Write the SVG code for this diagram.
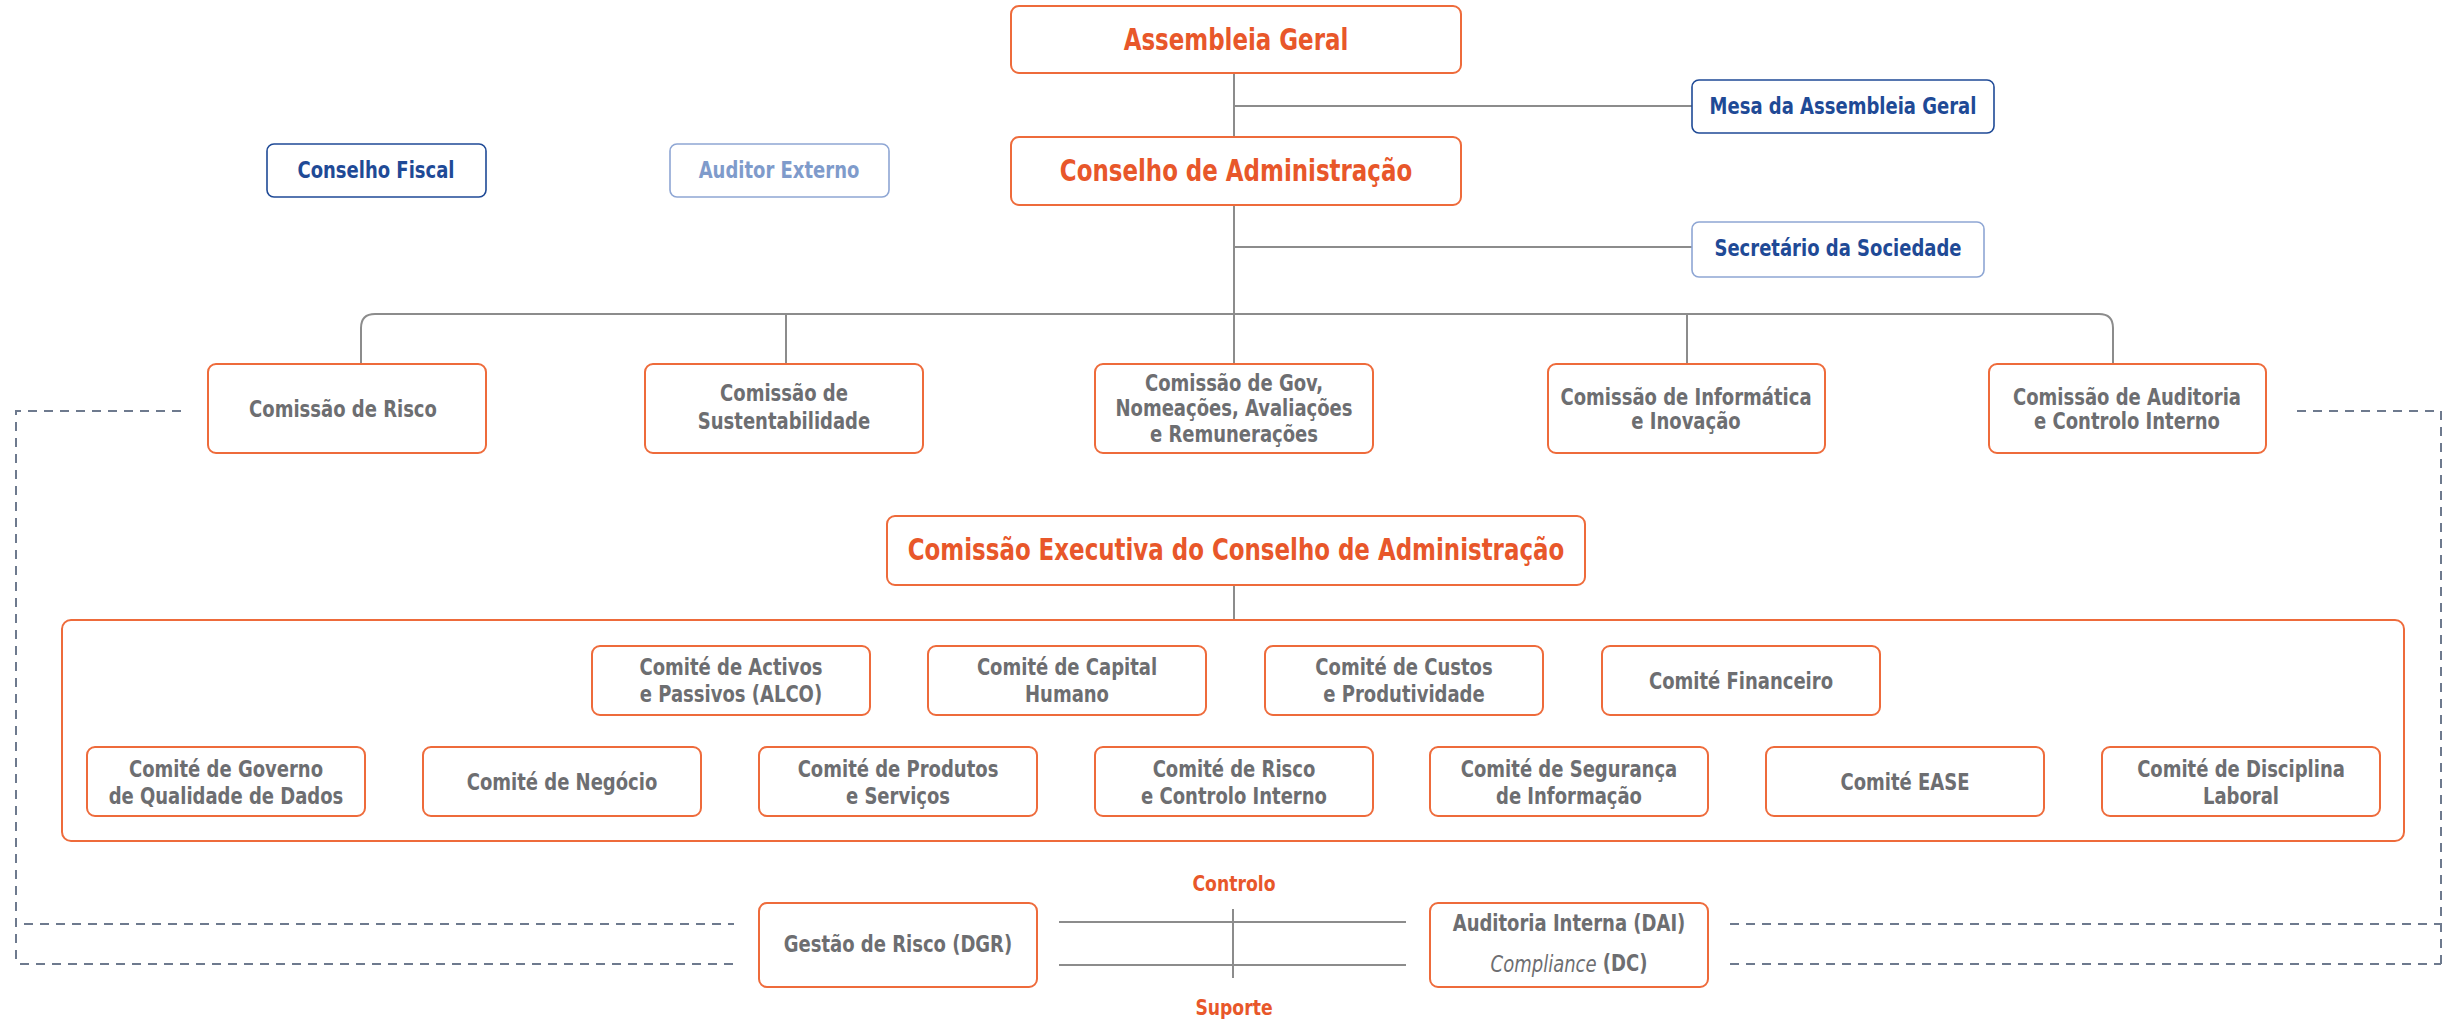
<svg xmlns="http://www.w3.org/2000/svg" width="2450" height="1021" viewBox="0 0 2450 1021">
<style>
text{font-family:"Liberation Sans Narrow","DejaVu Sans Condensed","Liberation Sans",sans-serif;font-weight:bold;text-anchor:middle;dominant-baseline:central;transform-box:fill-box;transform-origin:center;transform:scaleX(0.87)}
.ob{fill:#fff;stroke:#EE6B3B;stroke-width:2}
.nb{fill:#fff;stroke:#1F4A96;stroke-width:1.6}
.lb{fill:#fff;stroke:#8EA6D4;stroke-width:1.6}
.tO{fill:#E8572A;font-size:30px;transform:scaleX(0.85)}
.tO2{fill:#E8572A;font-size:22px}
.tG{fill:#6D6E71;font-size:23px}
.tN{fill:#1F4A96;font-size:23px}
.tL{fill:#7F9BCB;font-size:23px}
.ln{fill:none;stroke:#8C8C8C;stroke-width:2}
.ds{fill:none;stroke:#6E7A8E;stroke-width:2;stroke-dasharray:9 7}
</style>
<g id="connectors">
<path class="ln" d="M1234,73V137M1234,106H1692M1234,205V364M1234,247H1692"/>
<path class="ln" d="M361,364V328Q361,314 375,314H2099Q2113,314 2113,328V364M786,314V364M1687,314V364"/>
<path class="ln" d="M1234,585V620"/>
<path class="ln" d="M1059,922H1406M1059,965H1406M1233,909V978"/>
<path class="ds" d="M181,411H16V964"/>
<path class="ds" d="M2297,411H2441V964"/>
<path class="ds" d="M24,924H734M20,964H734"/>
<path class="ds" d="M1730,924H2441M1730,964H2441"/>
</g>
<g id="assembleia"><rect class="ob" x="1011" y="6" width="450" height="67" rx="8"/><text class="tO" x="1236" y="40">Assembleia Geral</text></g>
<g id="mesa"><rect class="nb" x="1692" y="80" width="302" height="53" rx="7"/><text class="tN" x="1843" y="106">Mesa da Assembleia Geral</text></g>
<g id="conselho-admin"><rect class="ob" x="1011" y="137" width="450" height="68" rx="8"/><text class="tO" x="1236" y="171">Conselho de Administração</text></g>
<g id="conselho-fiscal"><rect class="nb" x="267" y="144" width="219" height="53" rx="7"/><text class="tN" x="376" y="170">Conselho Fiscal</text></g>
<g id="auditor-externo"><rect class="lb" x="670" y="144" width="219" height="53" rx="7"/><text class="tL" x="779" y="170">Auditor Externo</text></g>
<g id="secretario"><rect class="lb" x="1692" y="222" width="292" height="55" rx="7"/><text class="tN" x="1838" y="248">Secretário da Sociedade</text></g>

<g id="comissao-risco"><rect class="ob" x="208" y="364" width="278" height="89" rx="8"/><text class="tG" x="343" y="409">Comissão de Risco</text></g>
<g id="comissao-sust"><rect class="ob" x="645" y="364" width="278" height="89" rx="8"/><text class="tG" x="784" y="393">Comissão de</text><text class="tG" x="784" y="421">Sustentabilidade</text></g>
<g id="comissao-gov"><rect class="ob" x="1095" y="364" width="278" height="89" rx="8"/><text class="tG" x="1234" y="383">Comissão de Gov,</text><text class="tG" x="1234" y="408">Nomeações, Avaliações</text><text class="tG" x="1234" y="434">e Remunerações</text></g>
<g id="comissao-info"><rect class="ob" x="1548" y="364" width="277" height="89" rx="8"/><text class="tG" x="1686" y="397">Comissão de Informática</text><text class="tG" x="1686" y="421">e Inovação</text></g>
<g id="comissao-auditoria"><rect class="ob" x="1989" y="364" width="277" height="89" rx="8"/><text class="tG" x="2127" y="397">Comissão de Auditoria</text><text class="tG" x="2127" y="421">e Controlo Interno</text></g>

<g id="comissao-executiva"><rect class="ob" x="887" y="516" width="698" height="69" rx="8"/><text class="tO" x="1236" y="550">Comissão Executiva do Conselho de Administração</text></g>
<g id="comites-container"><rect class="ob" x="62" y="620" width="2342" height="221" rx="9"/></g>

<g id="alco"><rect class="ob" x="592" y="646" width="278" height="69" rx="8"/><text class="tG" x="731" y="667">Comité de Activos</text><text class="tG" x="731" y="694">e Passivos (ALCO)</text></g>
<g id="capital-humano"><rect class="ob" x="928" y="646" width="278" height="69" rx="8"/><text class="tG" x="1067" y="667">Comité de Capital</text><text class="tG" x="1067" y="694">Humano</text></g>
<g id="custos"><rect class="ob" x="1265" y="646" width="278" height="69" rx="8"/><text class="tG" x="1404" y="667">Comité de Custos</text><text class="tG" x="1404" y="694">e Produtividade</text></g>
<g id="financeiro"><rect class="ob" x="1602" y="646" width="278" height="69" rx="8"/><text class="tG" x="1741" y="681">Comité Financeiro</text></g>

<g id="governo-dados"><rect class="ob" x="87" y="747" width="278" height="69" rx="8"/><text class="tG" x="226" y="769">Comité de Governo</text><text class="tG" x="226" y="796">de Qualidade de Dados</text></g>
<g id="negocio"><rect class="ob" x="423" y="747" width="278" height="69" rx="8"/><text class="tG" x="562" y="782">Comité de Negócio</text></g>
<g id="produtos"><rect class="ob" x="759" y="747" width="278" height="69" rx="8"/><text class="tG" x="898" y="769">Comité de Produtos</text><text class="tG" x="898" y="796">e Serviços</text></g>
<g id="risco-ci"><rect class="ob" x="1095" y="747" width="278" height="69" rx="8"/><text class="tG" x="1234" y="769">Comité de Risco</text><text class="tG" x="1234" y="796">e Controlo Interno</text></g>
<g id="seguranca"><rect class="ob" x="1430" y="747" width="278" height="69" rx="8"/><text class="tG" x="1569" y="769">Comité de Segurança</text><text class="tG" x="1569" y="796">de Informação</text></g>
<g id="ease"><rect class="ob" x="1766" y="747" width="278" height="69" rx="8"/><text class="tG" x="1905" y="782">Comité EASE</text></g>
<g id="disciplina"><rect class="ob" x="2102" y="747" width="278" height="69" rx="8"/><text class="tG" x="2241" y="769">Comité de Disciplina</text><text class="tG" x="2241" y="796">Laboral</text></g>

<g id="controlo-label"><text class="tO2" x="1234" y="884">Controlo</text></g>
<g id="suporte-label"><text class="tO2" x="1234" y="1008">Suporte</text></g>
<g id="gestao-risco"><rect class="ob" x="759" y="903" width="278" height="84" rx="8"/><text class="tG" x="898" y="944">Gestão de Risco (DGR)</text></g>
<g id="auditoria-interna"><rect class="ob" x="1430" y="903" width="278" height="84" rx="8"/><text class="tG" x="1569" y="923">Auditoria Interna (DAI)</text><text class="tG" x="1569" y="963"><tspan font-style="italic" font-weight="normal">Compliance</tspan> (DC)</text></g>
</svg>
